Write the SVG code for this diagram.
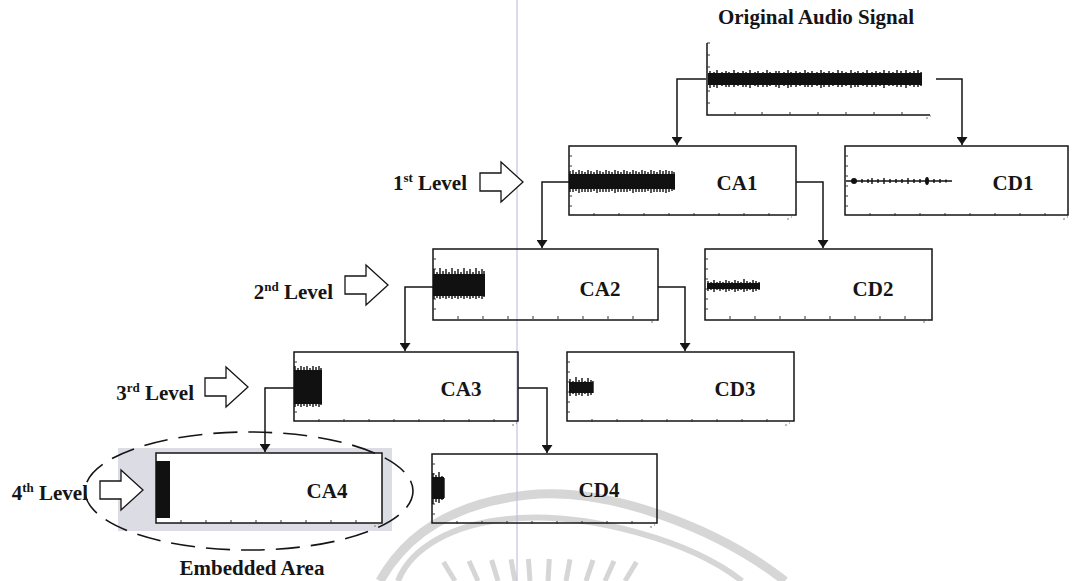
<svg xmlns="http://www.w3.org/2000/svg" xmlns:xlink="http://www.w3.org/1999/xlink" width="1072" height="581" viewBox="0 0 1072 581">
<style>
.box{fill:none;stroke:#151515;stroke-width:1.5}
.ax{fill:none;stroke:#151515;stroke-width:1.5}
.tk{fill:none;stroke:#333;stroke-width:1}
.lbl{font-family:"Liberation Serif","Times New Roman",serif;font-weight:bold;font-size:21px;fill:#151515}
.conn{fill:none;stroke:#151515;stroke-width:1.5}
.sig{fill:#111}
.spk{fill:none;stroke:#111;stroke-width:1.4}
.blk{fill:#fff;stroke:#151515;stroke-width:1.3}
.wm{fill:none;stroke:#d6d6d6}
</style>
<defs>
<marker id="ah" viewBox="0 0 8 11" refX="8" refY="5.5" markerWidth="8" markerHeight="11" markerUnits="userSpaceOnUse" orient="auto"><path d="M0,0 L8,5.5 L0,11 Z" fill="#151515"/></marker>
<g id="tk"><path class="tk" d="M0,10h3M0,20h3M0,30h3M0,40h3M0,50h3M0,60h3M25,70v-3M50,70v-3M75,70v-3M100,70v-3M125,70v-3M150,70v-3M175,70v-3M200,70v-3"/><path d="M218,73h2M222,71h1" stroke="#777" stroke-width="1"/></g>
<path id="barrow" d="M0,-9 H21 V-20 L43,0 L21,20 V9 H0 Z"/>
</defs>
<rect width="1072" height="581" fill="#fff"/>
<!-- watermark -->
<g id="watermark">
<path class="wm" stroke-width="9" d="M380,581 C400,545 440,505 527,495 C610,486 720,530 785,581"/>
<path class="wm" stroke-width="6" d="M398,581 C410,550 450,522 520,518 C590,514 690,540 742,581"/>
<path class="wm" stroke-width="5" d="M455,581L443.5,562M478,581L469,561M498,581L491.6,560M515,581L511,559.4M530,581L528.4,559M548,581L549.3,559M566,581L570,559.4M586,581L593,560M605,581L614,561M625,581L636.5,562"/>
</g>
<line x1="517" y1="0" x2="517" y2="581" stroke="#b8b8dc" stroke-width="1"/>
<!-- embedded area shading -->
<rect x="118" y="448" width="274" height="83" fill="#dcdce5"/>
<!-- connectors -->
<g id="connectors">
<path class="conn" marker-end="url(#ah)" d="M706,79 H677 V145"/>
<path class="conn" marker-end="url(#ah)" d="M936,79 H962 V145"/>
<path class="conn" marker-end="url(#ah)" d="M569,182 H542 V248"/>
<path class="conn" marker-end="url(#ah)" d="M796,182 H823 V248"/>
<path class="conn" marker-end="url(#ah)" d="M433,287 H405 V351"/>
<path class="conn" marker-end="url(#ah)" d="M658,287 H685 V351"/>
<path class="conn" marker-end="url(#ah)" d="M294,388 H265 V452"/>
<path class="conn" marker-end="url(#ah)" d="M518,388 H547 V453"/>
</g>
<!-- original signal -->
<g id="orig">
<text class="lbl" x="816" y="24" text-anchor="middle">Original Audio Signal</text>
<path class="ax" d="M707,43 V115 H930"/>
<path class="tk" d="M707,43h3M707,55h3M707,67h3M707,91h3M707,103h3M735,115v-3M762,115v-3M790,115v-3M818,115v-3M846,115v-3M874,115v-3M902,115v-3"/>
<path d="M926,118h2M930,116h1" stroke="#777" stroke-width="1"/>
<rect class="sig" x="708" y="73" width="214" height="12"/>
<path class="spk" d="M710,71v17M714,72v15M717,70v18M722,72v14M726,71v16M729,72v15M734,70v17M738,72v14M743,71v16M746,72v15M750,70v18M755,72v14M758,71v16M763,72v15M767,70v17M770,72v14M776,71v16M779,71v17M784,72v14M788,70v18M791,72v15M796,71v16M800,72v14M805,70v17M808,72v15M812,71v16M817,72v14M821,70v18M824,72v15M829,71v16M833,72v14M838,70v17M842,71v16M846,72v14M851,70v18M855,72v15M858,71v16M863,72v14M867,70v17M872,72v15M876,71v16M880,72v14M884,70v18M889,71v15M893,72v14M897,70v17M901,71v16M906,70v18M910,72v14M914,71v16M918,70v17M921,72v14"/>
</g>
<!-- level 1 -->
<g id="lvl1">
<text class="lbl" x="467" y="190" text-anchor="end">1<tspan font-size="13" dy="-8">st</tspan><tspan dy="8"> Level</tspan></text>
<use href="#barrow" class="blk" x="480" y="182"/>
</g>
<g id="ca1">
<rect class="box" x="569" y="146" width="227" height="69"/>
<use href="#tk" x="569" y="146"/>
<rect class="sig" x="569" y="174" width="106" height="15"/>
<path class="spk" d="M570,171v21M573,170v22M576,172v19M579,170v23M582,171v21M585,172v20M588,170v22M591,171v21M594,172v19M597,170v23M600,171v21M603,172v20M606,170v22M609,171v21M612,172v19M615,170v23M618,171v21M621,172v20M624,170v22M627,171v21M630,172v19M633,170v23M636,171v21M639,172v20M642,170v22M645,171v21M648,172v19M651,170v23M654,171v21M657,172v20M660,170v22M663,171v21M666,170v23M669,171v21M672,171v20M674,172v18"/>
<text class="lbl" x="737" y="190" text-anchor="middle">CA1</text>
</g>
<g id="cd1">
<rect class="box" x="845" y="146" width="223" height="69"/>
<use href="#tk" x="845" y="146"/>
<path class="spk" d="M846,181H952M862,179v4M868,179v4M872,178v6M878,179v4M884,178v6M890,179v4M896,179v4M902,179v4M908,178v6M914,179v4M920,179v4M934,179v4M940,179v4M946,179.5v3"/>
<circle cx="854" cy="181" r="3" fill="#111"/>
<ellipse cx="927" cy="181" rx="2" ry="4" fill="#111"/>
<text class="lbl" x="1013" y="190" text-anchor="middle">CD1</text>
</g>
<!-- level 2 -->
<g id="lvl2">
<text class="lbl" x="333" y="299" text-anchor="end">2<tspan font-size="13" dy="-8">nd</tspan><tspan dy="8"> Level</tspan></text>
<use href="#barrow" class="blk" x="345" y="285"/>
</g>
<g id="ca2">
<rect class="box" x="433" y="249" width="225" height="71"/>
<use href="#tk" x="433" y="249"/>
<rect class="sig" x="433" y="274" width="52" height="22"/>
<path class="spk" d="M434,269v30M437,272v26M440,268v31M443,271v27M446,269v30M449,272v26M452,268v31M455,271v27M458,269v30M461,272v26M464,268v31M467,271v27M470,269v30M473,272v26M476,268v31M479,271v27M482,269v30M484,271v26"/>
<text class="lbl" x="600" y="296" text-anchor="middle">CA2</text>
</g>
<g id="cd2">
<rect class="box" x="705" y="249" width="227" height="71"/>
<use href="#tk" x="705" y="249"/>
<rect class="sig" x="707" y="283" width="53" height="6"/>
<path class="spk" d="M708,281v10M711,282v8M714,280v12M717,282v8M720,281v10M723,282v8M726,280v12M729,281v10M732,282v8M735,280v12M738,281v10M741,282v8M744,279v13M747,281v10M750,282v8M753,280v12M756,281v10M759,282v8"/>
<text class="lbl" x="873" y="296" text-anchor="middle">CD2</text>
</g>
<!-- level 3 -->
<g id="lvl3">
<text class="lbl" x="194" y="400" text-anchor="end">3<tspan font-size="13" dy="-8">rd</tspan><tspan dy="8"> Level</tspan></text>
<use href="#barrow" class="blk" x="205" y="387"/>
</g>
<g id="ca3">
<rect class="box" x="294" y="352" width="224" height="69"/>
<use href="#tk" x="294" y="352"/>
<rect class="sig" x="294" y="370" width="28" height="34"/>
<path class="spk" d="M295,366v41M298,368v38M301,366v41M304,367v39M307,366v41M310,368v38M313,366v41M316,367v39M319,366v41M321,368v37"/>
<text class="lbl" x="461" y="396" text-anchor="middle">CA3</text>
</g>
<g id="cd3">
<rect class="box" x="567" y="352" width="227" height="69"/>
<use href="#tk" x="567" y="352"/>
<rect class="sig" x="569" y="382" width="24" height="11"/>
<path class="spk" d="M570,379v17M573,381v13M576,377v19M579,380v15M582,378v18M585,381v13M588,378v18M591,380v15M593,381v12"/>
<text class="lbl" x="735" y="396" text-anchor="middle">CD3</text>
</g>
<!-- level 4 / embedded area -->
<g id="lvl4">
<text class="lbl" x="88" y="500" text-anchor="end">4<tspan font-size="13" dy="-8">th</tspan><tspan dy="8"> Level</tspan></text>
<use href="#barrow" class="blk" x="100" y="490"/>
</g>
<g id="ca4">
<rect class="box" x="156" y="453" width="226" height="70" fill="#fff" style="fill:#fff"/>
<use href="#tk" x="156" y="453"/>
<rect class="sig" x="156" y="461" width="14" height="57"/>
<text class="lbl" x="327" y="498" text-anchor="middle">CA4</text>
</g>
<g id="cd4">
<rect class="box" x="432" y="454" width="225" height="69"/>
<use href="#tk" x="432" y="454"/>
<rect class="sig" x="432" y="477" width="12" height="22"/>
<path class="spk" d="M433,473v31M436,475v27M439,472v31M442,476v24M444,478v20"/>
<text class="lbl" x="599" y="497" text-anchor="middle">CD4</text>
</g>
<g id="embedded">
<ellipse cx="249" cy="491" rx="164" ry="59" fill="none" stroke="#151515" stroke-width="1.6" stroke-dasharray="24 11" stroke-dashoffset="6"/>
<text class="lbl" x="252" y="575" text-anchor="middle" font-size="20">Embedded Area</text>
</g>
</svg>
